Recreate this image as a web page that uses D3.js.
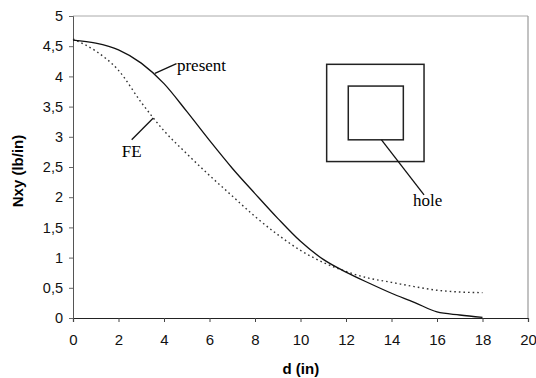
<!DOCTYPE html>
<html>
<head>
<meta charset="utf-8">
<script src="https://cdn.jsdelivr.net/npm/d3@7"></script>
<style>
  body { margin: 0; background: #fff; }
  .tick text { font-family: "Liberation Sans", Arial, sans-serif; }
</style>
</head>
<body>
<div class="canvas"></div>
<script>
// data
const dValues = [0, 1, 2, 3, 4, 5, 6, 7, 8, 9, 10, 11, 12, 13, 14, 15, 16, 17, 18]
const presentValues = [4.60, 4.55, 4.44, 4.22, 3.88, 3.42, 2.94, 2.48, 2.06, 1.65, 1.27, 0.97, 0.76, 0.58, 0.41, 0.26, 0.10, 0.05, 0.01]
const feValues = [4.62, 4.42, 4.10, 3.57, 3.10, 2.72, 2.36, 2.02, 1.68, 1.38, 1.12, 0.92, 0.77, 0.66, 0.59, 0.52, 0.46, 0.43, 0.42]
const xTicks = [0, 2, 4, 6, 8, 10, 12, 14, 16, 18, 20]
const yTicks = [0, 0.5, 1, 1.5, 2, 2.5, 3, 3.5, 4, 4.5, 5]

const width = 536
const height = 378
const margin = { top: 16, right: 8, bottom: 60, left: 73 }
const graphWidth = width - margin.left - margin.right
const graphHeight = height - margin.top - margin.bottom

const svg = d3.select('.canvas')
  .append('svg')
    .attr('width', width)
    .attr('height', height)

const graph = svg.append('g')
  .attr('transform', `translate(${margin.left},${margin.top})`)

const x = d3.scaleLinear().domain([0, 20]).range([0, graphWidth])
const y = d3.scaleLinear().domain([0, 5]).range([graphHeight, 0])

// frame (top and right in grey)
graph.append('line')
  .attr('x1', 0).attr('x2', graphWidth).attr('y1', 0).attr('y2', 0)
  .attr('stroke', '#aaa').attr('stroke-width', 1)
graph.append('line')
  .attr('x1', graphWidth).attr('x2', graphWidth).attr('y1', 0).attr('y2', graphHeight)
  .attr('stroke', '#999').attr('stroke-width', 1.2)

// axes
const fmt = d => String(d).replace('.', ',')
const xAxisGroup = graph.append('g')
  .attr('transform', `translate(0, ${graphHeight})`)
  .call(d3.axisBottom(x).tickValues(xTicks).tickFormat(fmt).tickSize(4).tickPadding(12))
const yAxisGroup = graph.append('g')
  .call(d3.axisLeft(y).tickValues(yTicks).tickFormat(fmt).tickSize(4).tickPadding(6))

xAxisGroup.selectAll('text').attr('font-size', 15).attr('fill', '#111')
yAxisGroup.selectAll('text').attr('font-size', 14.5).attr('fill', '#111')
xAxisGroup.select('.domain').attr('stroke', '#222').attr('stroke-width', 1.2)
yAxisGroup.select('.domain').attr('stroke', '#555')
xAxisGroup.selectAll('.tick line').attr('stroke', '#444')
yAxisGroup.selectAll('.tick line').attr('stroke', '#666')

// axis titles
svg.append('text')
  .attr('x', margin.left + x(10) - 18)
  .attr('y', 374)
  .attr('font-family', '"Liberation Sans", Arial, sans-serif')
  .attr('font-weight', 'bold')
  .attr('font-size', 15)
  .text('d (in)')

svg.append('text')
  .attr('transform', 'translate(23,171) rotate(-90)')
  .attr('text-anchor', 'middle')
  .attr('font-family', '"Liberation Sans", Arial, sans-serif')
  .attr('font-weight', 'bold')
  .attr('font-size', 15)
  .text('Nxy (lb/in)')

// lines
const line = values => d3.line()
  .x((d, i) => x(dValues[i]))
  .y(d => y(d))
  .curve(d3.curveMonotoneX)(values)

graph.append('path')
  .attr('d', line(feValues))
  .attr('fill', 'none')
  .attr('stroke', '#333')
  .attr('stroke-width', 1.4)
  .attr('stroke-dasharray', '1.6,3')

graph.append('path')
  .attr('d', line(presentValues))
  .attr('fill', 'none')
  .attr('stroke', '#111')
  .attr('stroke-width', 1.3)

// annotations, placed in data units
const serif = '"Liberation Serif", "Times New Roman", serif'
const pointer = (x1, y1, x2, y2) => graph.append('line')
  .attr('x1', x(x1)).attr('y1', y(y1)).attr('x2', x(x2)).attr('y2', y(y2))
  .attr('stroke', '#111').attr('stroke-width', 1.3)
const label = (xv, yv, txt) => graph.append('text')
  .attr('x', x(xv)).attr('y', y(yv))
  .attr('font-family', serif).attr('font-size', 17)
  .text(txt)

pointer(3.6, 4.05, 4.55, 4.21)
label(4.57, 4.09, 'present')
pointer(2.58, 2.95, 3.53, 3.31)
label(2.14, 2.67, 'FE')

// plate with hole sketch
graph.append('rect')
  .attr('x', x(11.15)).attr('y', y(4.2))
  .attr('width', x(15.43) - x(11.15)).attr('height', y(2.59) - y(4.2))
  .attr('fill', 'none').attr('stroke', '#222').attr('stroke-width', 1.5)
graph.append('rect')
  .attr('x', x(12.1)).attr('y', y(3.84))
  .attr('width', x(14.52) - x(12.1)).attr('height', y(2.95) - y(3.84))
  .attr('fill', 'none').attr('stroke', '#222').attr('stroke-width', 1.5)
pointer(13.56, 2.95, 15.43, 2.04)
label(14.95, 1.85, 'hole')
</script>
</body>
</html>
